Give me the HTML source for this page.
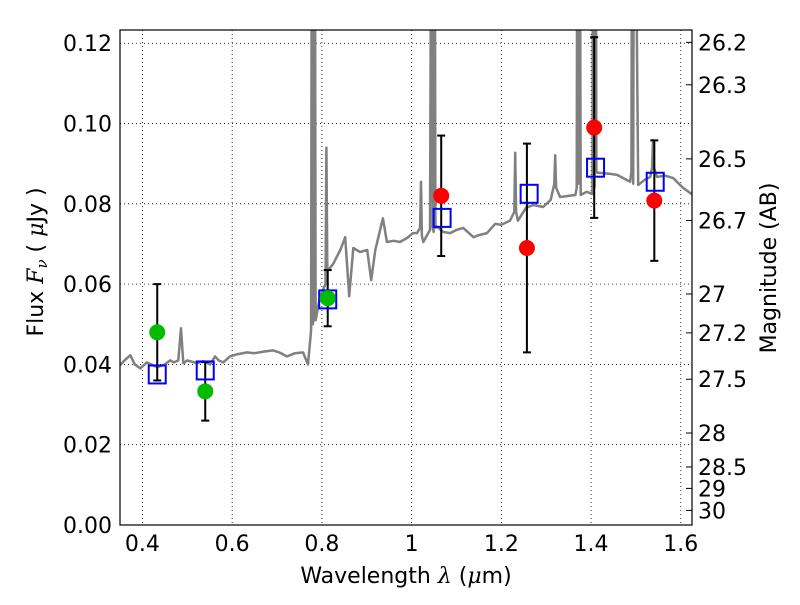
<!DOCTYPE html>
<html><head><meta charset="utf-8"><style>
body{margin:0;background:#fff;}
svg text{font-family:"DejaVu Sans","Liberation Sans",sans-serif;}
</style></head><body>
<svg id="chart" width="800" height="600" viewBox="0 0 800 600"></svg>
<script>
const specLam=[0.35,0.36,0.373,0.383,0.395,0.41,0.433,0.45,0.462,0.47,0.48,0.486,0.491,0.50,0.522,0.535,0.551,0.562,0.57,0.58,0.595,0.61,0.633,0.65,0.67,0.691,0.705,0.722,0.74,0.758,0.769,0.776,0.778,0.780,0.782,0.784,0.786,0.796,0.808,0.810,0.812,0.814,0.825,0.841,0.852,0.861,0.87,0.885,0.901,0.91,0.919,0.936,0.945,0.96,0.974,0.99,1.003,1.012,1.019,1.021,1.023,1.026,1.041,1.045,1.047,1.049,1.051,1.053,1.057,1.07,1.086,1.10,1.115,1.138,1.15,1.168,1.186,1.2,1.219,1.229,1.231,1.233,1.237,1.255,1.271,1.293,1.31,1.318,1.32,1.322,1.331,1.365,1.368,1.370,1.372,1.374,1.377,1.39,1.403,1.405,1.408,1.410,1.412,1.42,1.44,1.458,1.475,1.487,1.490,1.492,1.494,1.496,1.505,1.52,1.532,1.536,1.538,1.540,1.547,1.565,1.583,1.605,1.627];
const specFlux=[0.0398,0.041,0.0423,0.040,0.039,0.0405,0.0393,0.040,0.041,0.0405,0.041,0.049,0.0403,0.041,0.0403,0.0408,0.040,0.042,0.041,0.0405,0.042,0.0425,0.043,0.0428,0.0432,0.0435,0.043,0.042,0.0428,0.043,0.040,0.0485,0.2,0.05,0.052,0.2,0.051,0.057,0.06,0.094,0.064,0.0635,0.065,0.0685,0.0717,0.057,0.069,0.068,0.0685,0.061,0.0685,0.0764,0.0705,0.0708,0.0705,0.0715,0.0727,0.0727,0.074,0.0855,0.072,0.0705,0.0735,0.2,0.074,0.073,0.2,0.074,0.0743,0.073,0.0727,0.0735,0.074,0.0717,0.0722,0.0727,0.075,0.0748,0.0758,0.078,0.0927,0.078,0.0758,0.079,0.0797,0.0792,0.081,0.085,0.0921,0.084,0.0817,0.0822,0.084,0.2,0.085,0.2,0.0822,0.083,0.0825,0.2,0.084,0.2,0.0878,0.0877,0.0875,0.0872,0.0862,0.0855,0.088,0.2,0.085,0.2,0.0847,0.086,0.0867,0.089,0.0959,0.089,0.0867,0.087,0.0864,0.084,0.0822];
const ptLam=[0.433,0.54,0.813,1.066,1.257,1.407,1.541];
const ptFlux=[0.048,0.0333,0.0565,0.082,0.069,0.099,0.0808];
const ptErr=[0.012,0.0073,0.007,0.015,0.026,0.0225,0.015];
const ptColor=["#00bb00","#00bb00","#00bb00","#ff0000","#ff0000","#ff0000","#ff0000"];
const modLam=[0.433,0.54,0.813,1.068,1.262,1.41,1.543];
const modFlux=[0.0375,0.0385,0.0562,0.0765,0.0825,0.089,0.0855];
const xTicks=[0.4,0.6,0.8,1.0,1.2,1.4,1.6];
const xTickLabels=["0.4","0.6","0.8","1","1.2","1.4","1.6"];
const yTicks=[0,0.02,0.04,0.06,0.08,0.10,0.12];
const yTickLabels=["0.00","0.02","0.04","0.06","0.08","0.10","0.12"];
const magTicks=[26.2,26.3,26.5,26.7,27,27.2,27.5,28,28.5,29,30];
const magLabels=["26.2","26.3","26.5","26.7","27","27.2","27.5","28","28.5","29","30"];

const L=120,R=692,T=30,B=525;
const X0=0.35,X1=1.625,Y0=0,Y1=0.1233;
const sx=v=>L+(v-X0)/(X1-X0)*(R-L);
const sy=v=>B-(v-Y0)/(Y1-Y0)*(B-T);
const svg=document.getElementById('chart');
const NS="http://www.w3.org/2000/svg";
function mk(tag,attrs,parent){const e=document.createElementNS(NS,tag);for(const k in attrs)e.setAttribute(k,attrs[k]);(parent||svg).appendChild(e);return e;}

const defs=mk('defs',{});
const cp=mk('clipPath',{id:'clip'},defs);
mk('rect',{x:L,y:T,width:R-L,height:B-T},cp);

xTicks.forEach((v,i)=>{
  const g=mk('line',{x1:sx(v),x2:sx(v),y1:T,y2:B,stroke:'#000','stroke-width':0.8,'stroke-dasharray':'1,3'});
  
  
});
yTicks.forEach((v,i)=>{
  const g=mk('line',{x1:L,x2:R,y1:sy(v),y2:sy(v),stroke:'#000','stroke-width':0.8,'stroke-dasharray':'1,3'});
  
  
});

const pts=specLam.map((l,i)=>sx(l).toFixed(1)+','+sy(specFlux[i]).toFixed(1)).join(' ');
const sp=mk('polyline',{points:pts,fill:'none',stroke:'#808080','stroke-width':2.5,'clip-path':'url(#clip)','stroke-linejoin':'round'});



ptLam.forEach((l,i)=>{
  const x=sx(l),y1=sy(ptFlux[i]-ptErr[i]),y2=sy(ptFlux[i]+ptErr[i]);
  const g=mk('g',{stroke:'#000','stroke-width':2,'clip-path':'url(#clip)'});
  
  
  mk('line',{x1:x,x2:x,y1:y1,y2:y2},g);
  mk('line',{x1:x-4,x2:x+4,y1:y1,y2:y1},g);
  mk('line',{x1:x-4,x2:x+4,y1:y2,y2:y2},g);
});
modLam.forEach((l,i)=>{
  const r=mk('rect',{x:sx(l)-8.5,y:sy(modFlux[i])-9,width:17,height:18,fill:'none',stroke:'#0000ff','stroke-width':2});
  
  
});
ptLam.forEach((l,i)=>{
  const c=mk('circle',{cx:sx(l),cy:sy(ptFlux[i]),r:8,fill:ptColor[i]});
  
  
});

const fr=mk('rect',{x:L,y:T,width:R-L,height:B-T,fill:'none',stroke:'#000','stroke-width':1.2});



xTicks.forEach((v,i)=>{
  const x=sx(v);
  const t=mk('text',{x:x,y:B+26,'font-size':22,'text-anchor':'middle'});
  t.textContent=xTickLabels[i];
  
  
});
yTicks.forEach((v,i)=>{
  const y=sy(v);
  const t=mk('text',{x:L-8,y:y+8,'font-size':22,'text-anchor':'end'});
  t.textContent=yTickLabels[i];
  
  
});
magTicks.forEach((m,i)=>{
  const y=sy(Math.pow(10,(23.9-m)/2.5));
  mk('line',{x1:R,x2:R-6,y1:y,y2:y,stroke:'#000'});
  const t=mk('text',{x:R+6,y:y+8,'font-size':22,'text-anchor':'start'});
  t.textContent=magLabels[i];
  
  
});

const xt=mk('text',{x:406,y:583,'font-size':22,'text-anchor':'middle'});
xt.innerHTML='Wavelength  <tspan font-style="italic" font-family="DejaVu Serif,serif">λ</tspan> (<tspan font-style="italic" font-family="DejaVu Serif,serif">μ</tspan>m)';


const yt=mk('text',{x:0,y:0,'font-size':22,'text-anchor':'middle',transform:'translate(43,262) rotate(-90)'});
yt.innerHTML='Flux  <tspan font-style="italic" font-family="DejaVu Serif,serif">F</tspan><tspan font-style="italic" font-size="15" dy="4" font-family="DejaVu Serif,serif">ν</tspan><tspan dy="-4">   (  </tspan><tspan font-style="italic" font-family="DejaVu Serif,serif">μ</tspan>Jy )';


const rt=mk('text',{x:0,y:0,'font-size':22,'text-anchor':'middle',transform:'translate(776,268) rotate(-90)'});
rt.textContent='Magnitude (AB)';


</script>
</body></html>
